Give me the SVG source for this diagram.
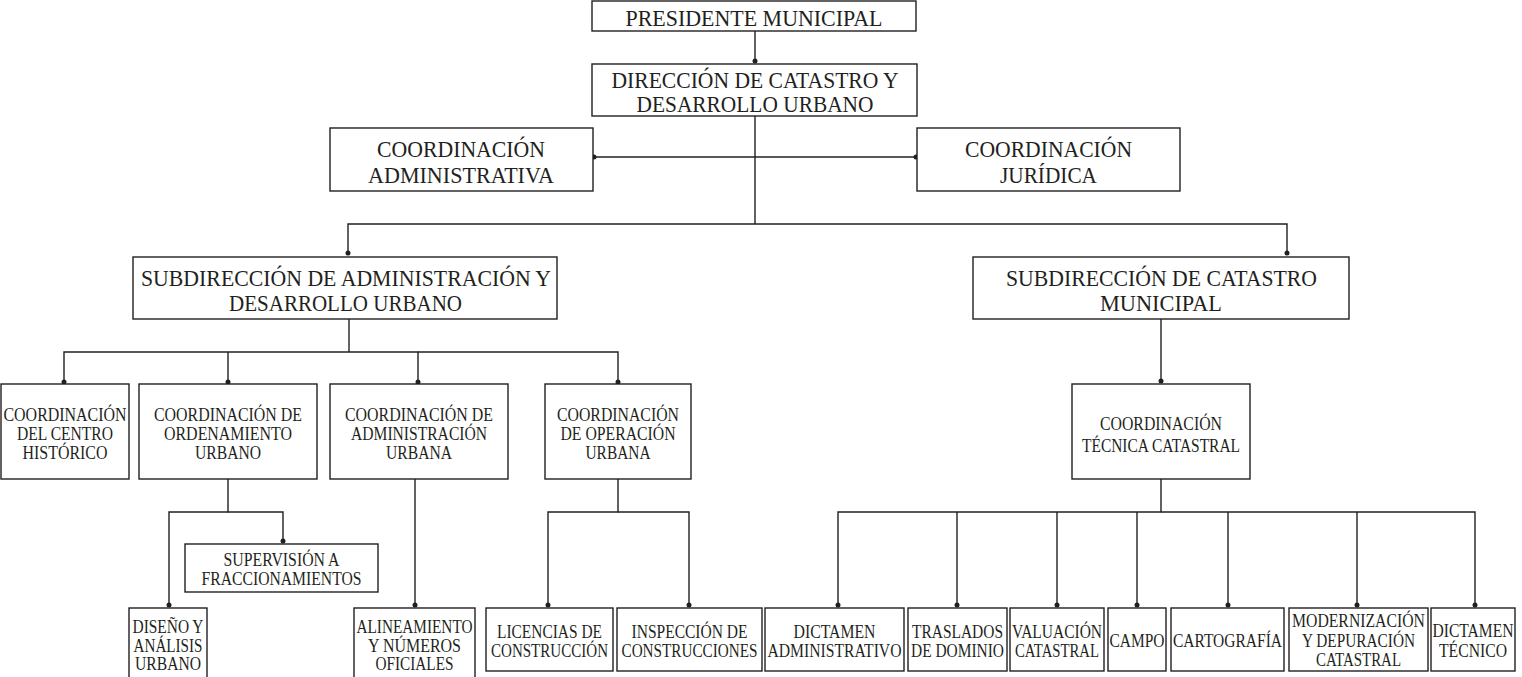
<svg xmlns="http://www.w3.org/2000/svg" width="1522" height="677" viewBox="0 0 1522 677">
<style>
.box{fill:#fff;stroke:#231f20;stroke-width:1.4}
.ln{fill:none;stroke:#231f20;stroke-width:1.4}
.t{font-family:"Liberation Serif","DejaVu Serif",serif;fill:#231f20;text-anchor:middle}
.lg{font-size:24px}
.md{font-size:22.5px}
.sm{font-size:18.5px}
</style>
<defs>
<marker id="dot" viewBox="0 0 6 6" refX="3" refY="3" markerWidth="6" markerHeight="6" markerUnits="userSpaceOnUse"><circle cx="3" cy="3" r="2.5" fill="#231f20"/></marker>
</defs>
<rect width="1522" height="677" fill="#fff"/>
<g id="connectors">
<path class="ln" d="M755,31 V61" marker-end="url(#dot)"/>
<path class="ln" d="M755,116 V224"/>
<path class="ln" d="M755,157 H594" marker-end="url(#dot)"/>
<path class="ln" d="M755,157 H916" marker-end="url(#dot)"/>
<path class="ln" d="M755,224 H348 V253" marker-end="url(#dot)"/>
<path class="ln" d="M755,224 H1287 V253" marker-end="url(#dot)"/>
<path class="ln" d="M349,319 V352"/>
<path class="ln" d="M349,352 H64 V382" marker-end="url(#dot)"/>
<path class="ln" d="M228,352 V382" marker-end="url(#dot)"/>
<path class="ln" d="M349,352 H418 V382" marker-end="url(#dot)"/>
<path class="ln" d="M418,352 H618 V382" marker-end="url(#dot)"/>
<path class="ln" d="M228,479 V512 H169 V605" marker-end="url(#dot)"/>
<path class="ln" d="M228,512 H283 V541" marker-end="url(#dot)"/>
<path class="ln" d="M415,479 V605" marker-end="url(#dot)"/>
<path class="ln" d="M618,479 V512 H548 V605" marker-end="url(#dot)"/>
<path class="ln" d="M618,512 H689 V605" marker-end="url(#dot)"/>
<path class="ln" d="M1161,319 V381" marker-end="url(#dot)"/>
<path class="ln" d="M1161,479 V512 H838 V605" marker-end="url(#dot)"/>
<path class="ln" d="M1161,512 H1475 V605" marker-end="url(#dot)"/>
<path class="ln" d="M957,512 V605" marker-end="url(#dot)"/>
<path class="ln" d="M1057,512 V605" marker-end="url(#dot)"/>
<path class="ln" d="M1137,512 V605" marker-end="url(#dot)"/>
<path class="ln" d="M1228,512 V605" marker-end="url(#dot)"/>
<path class="ln" d="M1357,512 V605" marker-end="url(#dot)"/>
</g>
<g id="presidente">
<rect class="box" x="592" y="1" width="324" height="30"/>
<text class="t lg" x="754" y="26" textLength="257" lengthAdjust="spacingAndGlyphs">PRESIDENTE MUNICIPAL</text>
</g>
<g id="direccion">
<rect class="box" x="592" y="64" width="325" height="52"/>
<text class="t lg" x="755" y="88" textLength="287" lengthAdjust="spacingAndGlyphs">DIRECCIÓN DE CATASTRO Y</text>
<text class="t lg" x="755" y="112" textLength="237" lengthAdjust="spacingAndGlyphs">DESARROLLO URBANO</text>
</g>
<g id="coord-administrativa">
<rect class="box" x="330" y="128" width="263" height="63"/>
<text class="t md" x="461" y="157" textLength="168" lengthAdjust="spacingAndGlyphs">COORDINACIÓN</text>
<text class="t md" x="461" y="183" textLength="186" lengthAdjust="spacingAndGlyphs">ADMINISTRATIVA</text>
</g>
<g id="coord-juridica">
<rect class="box" x="917" y="128" width="263" height="63"/>
<text class="t md" x="1048.5" y="157" textLength="167" lengthAdjust="spacingAndGlyphs">COORDINACIÓN</text>
<text class="t md" x="1048.5" y="183" textLength="97" lengthAdjust="spacingAndGlyphs">JURÍDICA</text>
</g>
<g id="subdir-administracion">
<rect class="box" x="133" y="257" width="424" height="62"/>
<text class="t lg" x="346" y="285.5" textLength="410" lengthAdjust="spacingAndGlyphs">SUBDIRECCIÓN DE ADMINISTRACIÓN Y</text>
<text class="t lg" x="345.5" y="310.5" textLength="233" lengthAdjust="spacingAndGlyphs">DESARROLLO URBANO</text>
</g>
<g id="subdir-catastro">
<rect class="box" x="973" y="257" width="376" height="62"/>
<text class="t lg" x="1161.5" y="285.5" textLength="311" lengthAdjust="spacingAndGlyphs">SUBDIRECCIÓN DE CATASTRO</text>
<text class="t lg" x="1161" y="310.5" textLength="122" lengthAdjust="spacingAndGlyphs">MUNICIPAL</text>
</g>
<g id="coord-centro-historico">
<rect class="box" x="1" y="384" width="128" height="95"/>
<text class="t sm" x="65" y="420.5" textLength="123" lengthAdjust="spacingAndGlyphs">COORDINACIÓN</text>
<text class="t sm" x="65" y="439.5" textLength="96" lengthAdjust="spacingAndGlyphs">DEL CENTRO</text>
<text class="t sm" x="65" y="458.5" textLength="85" lengthAdjust="spacingAndGlyphs">HISTÓRICO</text>
</g>
<g id="coord-ordenamiento">
<rect class="box" x="139" y="384" width="178" height="95"/>
<text class="t sm" x="228" y="420.5" textLength="148" lengthAdjust="spacingAndGlyphs">COORDINACIÓN DE</text>
<text class="t sm" x="228" y="439.5" textLength="128" lengthAdjust="spacingAndGlyphs">ORDENAMIENTO</text>
<text class="t sm" x="228" y="458.5" textLength="66" lengthAdjust="spacingAndGlyphs">URBANO</text>
</g>
<g id="coord-admin-urbana">
<rect class="box" x="330" y="384" width="178" height="95"/>
<text class="t sm" x="419" y="420.5" textLength="148" lengthAdjust="spacingAndGlyphs">COORDINACIÓN DE</text>
<text class="t sm" x="419" y="439.5" textLength="136" lengthAdjust="spacingAndGlyphs">ADMINISTRACIÓN</text>
<text class="t sm" x="419" y="458.5" textLength="66" lengthAdjust="spacingAndGlyphs">URBANA</text>
</g>
<g id="coord-operacion">
<rect class="box" x="545" y="384" width="146" height="95"/>
<text class="t sm" x="618" y="420.5" textLength="122" lengthAdjust="spacingAndGlyphs">COORDINACIÓN</text>
<text class="t sm" x="618" y="439.5" textLength="115" lengthAdjust="spacingAndGlyphs">DE OPERACIÓN</text>
<text class="t sm" x="618" y="458.5" textLength="65" lengthAdjust="spacingAndGlyphs">URBANA</text>
</g>
<g id="coord-tecnica">
<rect class="box" x="1072" y="384" width="178" height="95"/>
<text class="t sm" x="1161" y="429.5" textLength="122" lengthAdjust="spacingAndGlyphs">COORDINACIÓN</text>
<text class="t sm" x="1161" y="452" textLength="158" lengthAdjust="spacingAndGlyphs">TÉCNICA CATASTRAL</text>
</g>
<g id="supervision">
<rect class="box" x="185" y="544" width="193" height="48"/>
<text class="t sm" x="281.5" y="566" textLength="116" lengthAdjust="spacingAndGlyphs">SUPERVISIÓN A</text>
<text class="t sm" x="281.5" y="585" textLength="160" lengthAdjust="spacingAndGlyphs">FRACCIONAMIENTOS</text>
</g>
<g id="diseno">
<rect class="box" x="129" y="608" width="78" height="75"/>
<text class="t sm" x="168" y="632.5" textLength="71" lengthAdjust="spacingAndGlyphs">DISEÑO Y</text>
<text class="t sm" x="168" y="651.5" textLength="69" lengthAdjust="spacingAndGlyphs">ANÁLISIS</text>
<text class="t sm" x="168" y="670" textLength="66" lengthAdjust="spacingAndGlyphs">URBANO</text>
</g>
<g id="alineamiento">
<rect class="box" x="354" y="608" width="121" height="75"/>
<text class="t sm" x="414.5" y="632.5" textLength="116" lengthAdjust="spacingAndGlyphs">ALINEAMIENTO</text>
<text class="t sm" x="414.5" y="651.5" textLength="93" lengthAdjust="spacingAndGlyphs">Y NÚMEROS</text>
<text class="t sm" x="414.5" y="670" textLength="78" lengthAdjust="spacingAndGlyphs">OFICIALES</text>
</g>
<g id="licencias">
<rect class="box" x="486" y="608" width="127" height="63"/>
<text class="t sm" x="549.5" y="637.5" textLength="105" lengthAdjust="spacingAndGlyphs">LICENCIAS DE</text>
<text class="t sm" x="549.5" y="656.5" textLength="117" lengthAdjust="spacingAndGlyphs">CONSTRUCCIÓN</text>
</g>
<g id="inspeccion">
<rect class="box" x="617" y="608" width="145" height="63"/>
<text class="t sm" x="689.5" y="637.5" textLength="116" lengthAdjust="spacingAndGlyphs">INSPECCIÓN DE</text>
<text class="t sm" x="689.5" y="656.5" textLength="136" lengthAdjust="spacingAndGlyphs">CONSTRUCCIONES</text>
</g>
<g id="dictamen-administrativo">
<rect class="box" x="765" y="608" width="139" height="63"/>
<text class="t sm" x="834.5" y="637.5" textLength="82" lengthAdjust="spacingAndGlyphs">DICTAMEN</text>
<text class="t sm" x="834.5" y="656.5" textLength="134" lengthAdjust="spacingAndGlyphs">ADMINISTRATIVO</text>
</g>
<g id="traslados">
<rect class="box" x="908" y="608" width="99" height="63"/>
<text class="t sm" x="957.5" y="637.5" textLength="91" lengthAdjust="spacingAndGlyphs">TRASLADOS</text>
<text class="t sm" x="957.5" y="656.5" textLength="93" lengthAdjust="spacingAndGlyphs">DE DOMINIO</text>
</g>
<g id="valuacion">
<rect class="box" x="1010" y="608" width="94" height="63"/>
<text class="t sm" x="1057" y="637.5" textLength="90" lengthAdjust="spacingAndGlyphs">VALUACIÓN</text>
<text class="t sm" x="1057" y="656.5" textLength="84" lengthAdjust="spacingAndGlyphs">CATASTRAL</text>
</g>
<g id="campo">
<rect class="box" x="1108" y="608" width="58" height="63"/>
<text class="t sm" x="1137" y="647" textLength="55" lengthAdjust="spacingAndGlyphs">CAMPO</text>
</g>
<g id="cartografia">
<rect class="box" x="1171" y="608" width="113" height="63"/>
<text class="t sm" x="1227.5" y="647" textLength="109" lengthAdjust="spacingAndGlyphs">CARTOGRAFÍA</text>
</g>
<g id="modernizacion">
<rect class="box" x="1289" y="608" width="139" height="63"/>
<text class="t sm" x="1358.5" y="627" textLength="133" lengthAdjust="spacingAndGlyphs">MODERNIZACIÓN</text>
<text class="t sm" x="1358.5" y="646.5" textLength="113" lengthAdjust="spacingAndGlyphs">Y DEPURACIÓN</text>
<text class="t sm" x="1358.5" y="665.5" textLength="85" lengthAdjust="spacingAndGlyphs">CATASTRAL</text>
</g>
<g id="dictamen-tecnico">
<rect class="box" x="1431" y="608" width="84" height="63"/>
<text class="t sm" x="1473" y="637" textLength="81" lengthAdjust="spacingAndGlyphs">DICTAMEN</text>
<text class="t sm" x="1473" y="656.5" textLength="68" lengthAdjust="spacingAndGlyphs">TÉCNICO</text>
</g>
</svg>
